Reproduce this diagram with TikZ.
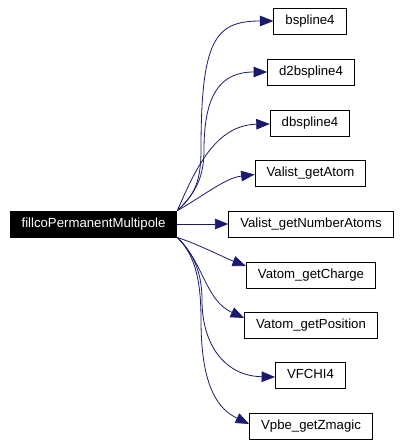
\documentclass[tikz,border=0pt]{standalone}
\usepackage{fontspec}
\setmainfont{Liberation Sans}
\usetikzlibrary{arrows.meta}
\definecolor{edge}{HTML}{191970}

\begin{document}
\begin{tikzpicture}[
  x=1pt, y=-1pt,
  font=\fontsize{13.2}{15}\selectfont,
  box/.style={
    draw=black,
    line width=0.9pt,
    fill=white,
    inner xsep=11.5pt,
    inner ysep=0pt,
    minimum height=26pt,
    text height=9.6pt,
    text depth=2.8pt
  },
  root/.style={box, fill=black, text=white},
  arrow/.style={-{Triangle[length=13.5pt,width=10.5pt]}, line width=0.8pt, draw=edge}
]
\useasboundingbox (0,0) rectangle (402,447);

\node[root] (fill) at (93.5,224) {fillcoPermanentMultipole};

\node[box] (bsp) at (310,21) {bspline4};
\node[box] (dtwobsp) at (311,72) {d2bspline4};
\node[box] (dbsp) at (310,123) {dbspline4};
\node[box] (getatom) at (310.5,173.5) {Valist\_getAtom};
\node[box] (getnum) at (311,224) {Valist\_getNumberAtoms};
\node[box] (getcharge) at (311,275) {Vatom\_getCharge};
\node[box] (getpos) at (311,325) {Vatom\_getPosition};
\node[box] (vfchi) at (310.5,375.5) {VFCHI4};
\node[box] (zmagic) at (311,426.5) {Vpbe\_getZmagic};

% calls above the root
\draw[arrow] (fill.north east) .. controls (195,195) and (201,180) .. (201,150)
  .. controls (201,40) and (215,21) .. (bsp.west);
\draw[arrow] (fill.north east) .. controls (197,192) and (204,175) .. (204,150)
  .. controls (204,95) and (220,72) .. (dtwobsp.west);
\draw[arrow] (fill.north east) .. controls (195,170) and (215,125) .. ([yshift=-1pt]dbsp.west);
\draw[arrow] (fill.north east) .. controls (205,195) and (225,178) .. ([yshift=-1pt]getatom.west);
\draw[arrow] (fill) -- (getnum);

% calls below the root
\draw[arrow] (fill.south east) .. controls (200,245) and (225,258) .. ([yshift=9pt]getcharge.west);
\draw[arrow] (fill.south east) .. controls (205,265) and (205,300) .. ([yshift=7pt]getpos.west);
\draw[arrow] (fill.south east) .. controls (195,255) and (202,275) .. (202,300)
  .. controls (202,345) and (225,376) .. ([yshift=-1.5pt]vfchi.west);
\draw[arrow] (fill.south east) .. controls (195,255) and (201,280) .. (201,320)
  .. controls (201,390) and (220,410) .. ([yshift=2.5pt]zmagic.west);

\end{tikzpicture}
\end{document}
